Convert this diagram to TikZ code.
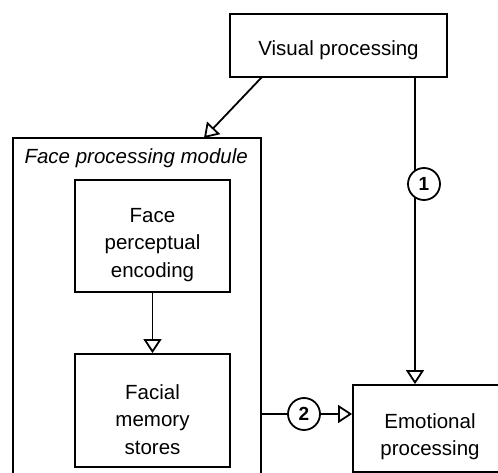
\documentclass[tikz,border=0pt]{standalone}
\usepackage{fontspec}
\setmainfont{Liberation Sans}
\usetikzlibrary{arrows.meta,calc}

\tikzset{
  box/.style={draw, line width=1.8pt, rectangle, inner sep=0pt},
  lbl/.style={align=center, inner sep=0pt, font=\fontsize{20.5}{27.5}\selectfont},
  conn/.style={line width=1.8pt, -{Triangle[open, length=14pt, width=18pt, line width=1.8pt]}},
  marker/.style={draw, circle, line width=1.8pt, fill=white, minimum size=32pt,
    inner sep=0pt, font=\fontsize{19}{19}\selectfont\bfseries},
}

\begin{document}
\begin{tikzpicture}[x=1pt, y=-1pt]
  \useasboundingbox (0,0) rectangle (498,473);
  \clip (0,0) rectangle (498,473);

  % outer module frame (continues past the lower edge)
  \node[box, minimum width=248pt, minimum height=352pt] (mod) at (137,314) {};
  \node[anchor=base west, font=\fontsize{20.5}{27}\selectfont\itshape]
    (modlabel) at (21,164) {Face processing module};

  % processing stages: frames
  \node[box, minimum width=217pt, minimum height=63pt] (vis) at (338.5,45.5) {};
  \node[box, minimum width=155pt, minimum height=112pt] (fpe) at (152.5,236) {};
  \node[box, minimum width=155pt, minimum height=113pt] (fms) at (152.5,410.5) {};
  \node[box, minimum width=154pt, minimum height=87pt] (emo) at (430,428.5) {};

  % processing stages: captions
  \node[lbl] (vis-t) at ($(vis)+(0,5)$) {Visual processing};
  \node[lbl] (fpe-t) at ($(fpe)+(0,9)$) {Face\\perceptual\\encoding};
  \node[lbl] (fms-t) at ($(fms)+(0,9)$) {Facial\\memory\\stores};
  \node[lbl] (emo-t) at ($(emo)+(0,8)$) {Emotional\\processing};

  % helper points for the routes
  \coordinate (xa) at (415,0);
  \coordinate (v1) at (262,77);
  \coordinate (m1) at (204,138);

  % connectors
  \draw[conn] (v1) -- (m1);
  \draw[conn] (fpe.south) -- (fms.north);
  \draw[conn] (xa |- vis.south) -- (xa |- emo.north);
  \draw[conn] (mod.east |- 0,414) -- (emo.west |- 0,414);

  % route markers
  \node[marker] (c1) at (424,184) {1};
  \node[marker] (c2) at (304,414) {2};
\end{tikzpicture}
\end{document}
